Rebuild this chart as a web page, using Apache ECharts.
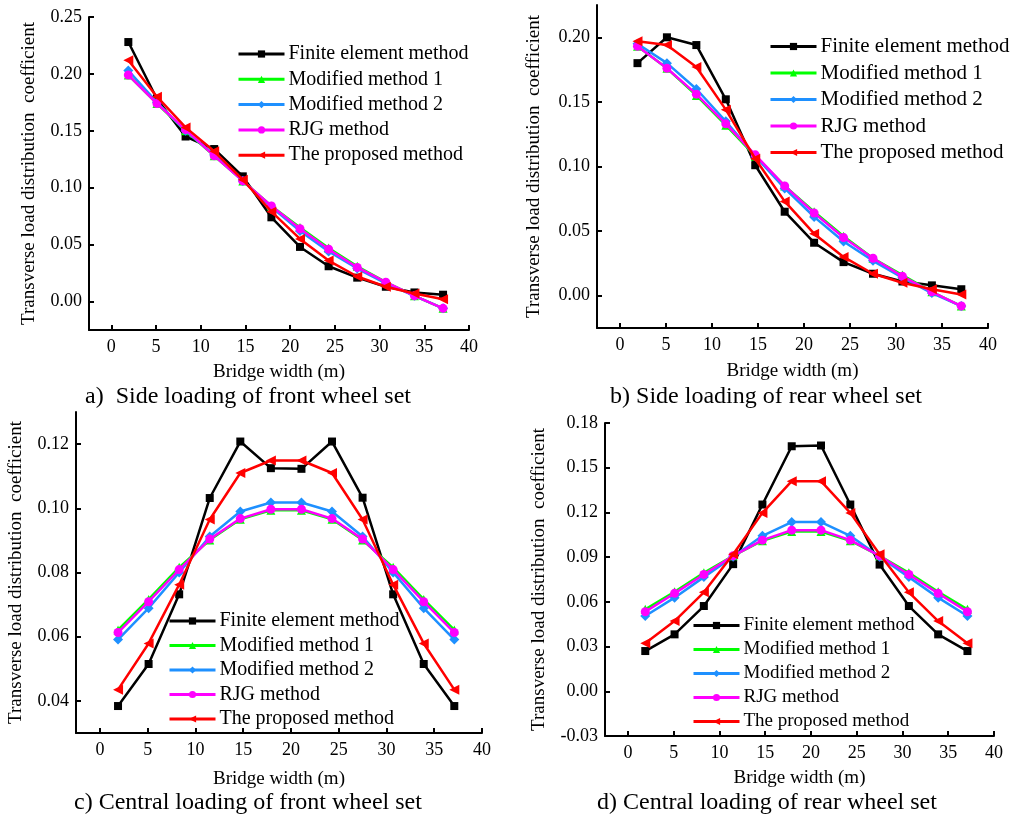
<!DOCTYPE html>
<html>
<head>
<meta charset="utf-8">
<script src="https://cdn.jsdelivr.net/npm/echarts@6/dist/echarts.min.js"></script>
<style>
  html, body { margin: 0; padding: 0; background: #ffffff; }
  #chart { width: 1017px; height: 818px; }
</style>
</head>
<body>
<div id="chart"></div>
<script>
// Girder positions across the bridge width (m)
const girderX = [1.9, 5.1, 8.3, 11.5, 14.7, 17.9, 21.1, 24.3, 27.5, 30.7, 33.9, 37.1];

const seriesNames = ['Finite element method', 'Modified method 1', 'Modified method 2', 'RJG method', 'The proposed method'];

// a) Side loading of front wheel set
const femA  = [0.228, 0.178, 0.145, 0.134, 0.110, 0.074, 0.048, 0.031, 0.021, 0.013, 0.008, 0.006];
const mod1A = [0.199, 0.174, 0.150, 0.128, 0.106, 0.084, 0.065, 0.047, 0.031, 0.017, 0.005, -0.006];
const mod2A = [0.203, 0.175, 0.150, 0.129, 0.106, 0.083, 0.062, 0.044, 0.029, 0.016, 0.005, -0.006];
const rjgA  = [0.199, 0.174, 0.151, 0.128, 0.106, 0.084, 0.064, 0.046, 0.030, 0.017, 0.005, -0.006];
const propA = [0.212, 0.180, 0.153, 0.132, 0.107, 0.079, 0.055, 0.036, 0.022, 0.013, 0.007, 0.002];

// b) Side loading of rear wheel set
const femB  = [0.180, 0.200, 0.194, 0.152, 0.101, 0.065, 0.041, 0.026, 0.017, 0.011, 0.008, 0.005];
const mod1B = [0.193, 0.176, 0.155, 0.132, 0.108, 0.085, 0.065, 0.046, 0.029, 0.016, 0.003, -0.008];
const mod2B = [0.195, 0.180, 0.160, 0.135, 0.108, 0.083, 0.061, 0.042, 0.027, 0.014, 0.002, -0.008];
const rjgB  = [0.193, 0.176, 0.156, 0.133, 0.109, 0.085, 0.064, 0.045, 0.029, 0.015, 0.003, -0.008];
const propB = [0.197, 0.194, 0.177, 0.144, 0.106, 0.073, 0.048, 0.030, 0.017, 0.010, 0.005, 0.001];

// c) Central loading of front wheel set
const femC  = [0.0384, 0.0515, 0.0732, 0.1032, 0.1208, 0.1125, 0.1123, 0.1208, 0.1033, 0.0732, 0.0515, 0.0384];
const mod1C = [0.0621, 0.0716, 0.0816, 0.0901, 0.0966, 0.0994, 0.0994, 0.0966, 0.0901, 0.0816, 0.0716, 0.0621];
const mod2C = [0.0591, 0.0689, 0.0800, 0.0912, 0.0990, 0.1018, 0.1018, 0.0990, 0.0912, 0.0800, 0.0689, 0.0591];
const rjgC  = [0.0613, 0.0709, 0.0809, 0.0904, 0.0968, 0.0997, 0.0997, 0.0968, 0.0904, 0.0809, 0.0709, 0.0613];
const propC = [0.0435, 0.0579, 0.0762, 0.0965, 0.1110, 0.1149, 0.1149, 0.1110, 0.0965, 0.0762, 0.0579, 0.0435];

// d) Central loading of rear wheel set
const femD  = [0.0270, 0.0382, 0.0572, 0.0853, 0.1253, 0.1644, 0.1649, 0.1253, 0.0850, 0.0572, 0.0382, 0.0270];
const mod1D = [0.0550, 0.0668, 0.0795, 0.0909, 0.1010, 0.1072, 0.1072, 0.1010, 0.0909, 0.0795, 0.0668, 0.0550];
const mod2D = [0.0505, 0.0628, 0.0766, 0.0903, 0.1043, 0.1135, 0.1135, 0.1043, 0.0903, 0.0766, 0.0628, 0.0505];
const rjgD  = [0.0534, 0.0657, 0.0784, 0.0909, 0.1014, 0.1081, 0.1081, 0.1014, 0.0909, 0.0784, 0.0657, 0.0534];
const propD = [0.0322, 0.0471, 0.0664, 0.0920, 0.1197, 0.1410, 0.1410, 0.1197, 0.0920, 0.0664, 0.0471, 0.0322];

// Tick values
const xTicks  = [0, 5, 10, 15, 20, 25, 30, 35, 40];
const yTicksA = [0, 0.05, 0.10, 0.15, 0.20, 0.25];
const yTicksB = [0, 0.05, 0.10, 0.15, 0.20];
const yTicksC = [0.04, 0.06, 0.08, 0.10, 0.12];
const yTicksD = [-0.03, 0, 0.03, 0.06, 0.09, 0.12, 0.15, 0.18];

const captions = [
  'a)  Side loading of front wheel set',
  'b) Side loading of rear wheel set',
  'c) Central loading of front wheel set',
  'd) Central loading of rear wheel set'
];

const FONT = '"Liberation Serif", "Times New Roman", serif';

const styles = [
  { color: '#000000', symbol: 'rect',     symbolSize: 8,  rotate: 0 },
  { color: '#00ff00', symbol: 'triangle', symbolSize: 9,  rotate: 0 },
  { color: '#1e90ff', symbol: 'diamond',  symbolSize: 10, rotate: 0 },
  { color: '#ff00ff', symbol: 'circle',   symbolSize: 9,  rotate: 0 },
  { color: '#ff0000', symbol: 'triangle', symbolSize: 10, rotate: 90 }
];

const panels = [
  { data: [femA, mod1A, mod2A, rjgA, propA], yMin: -0.025, yMax: 0.25, yTicks: yTicksA,
    grid: { left: 89, top: 17, width: 380, height: 313 },
    legend: { left: 237, top: 44, gap: 5.3, size: 20 }, yGap: 50, xGap: 33,
    caption: { x: 248, y: 397 } },
  { data: [femB, mod1B, mod2B, rjgB, propB], yMin: -0.025, yMax: 0.225, yTicks: yTicksB,
    grid: { left: 597, top: 5, width: 391, height: 323 },
    legend: { left: 769, top: 36, gap: 5.5, size: 21 }, yGap: 53, xGap: 34,
    caption: { x: 766, y: 397 } },
  { data: [femC, mod1C, mod2C, rjgC, propC], yMin: 0.03, yMax: 0.13, yTicks: yTicksC,
    grid: { left: 76, top: 412, width: 406, height: 321 },
    legend: { left: 168, top: 611, gap: 4.5, size: 20 }, yGap: 50, xGap: 37,
    caption: { x: 248, y: 803 } },
  { data: [femD, mod1D, mod2D, rjgD, propD], yMin: -0.03, yMax: 0.18, yTicks: yTicksD,
    grid: { left: 605, top: 423, width: 389, height: 313 },
    legend: { left: 692, top: 616, gap: 5, size: 19 }, yGap: 56, xGap: 33,
    caption: { x: 767, y: 803 } }
];

const axisLineStyle = { show: true, onZero: false, lineStyle: { color: '#000', width: 2 } };

const option = {
  backgroundColor: '#ffffff',
  animation: false,
  textStyle: { fontFamily: FONT },
  grid: [], xAxis: [], yAxis: [], series: [], legend: [], graphic: []
};

panels.forEach((p, i) => {
  option.grid.push(Object.assign({ containLabel: false }, p.grid));
  option.xAxis.push({
    type: 'value', gridIndex: i, min: -2.5, max: 40,
    name: 'Bridge width (m)', nameLocation: 'middle', nameGap: p.xGap,
    nameTextStyle: { fontFamily: FONT, fontSize: 19, color: '#000' },
    axisLine: axisLineStyle,
    axisTick: { show: true, inside: true, length: 5, lineStyle: { color: '#000', width: 2 }, customValues: xTicks },
    axisLabel: { show: true, fontFamily: FONT, fontSize: 18, color: '#000', margin: 8, customValues: xTicks },
    splitLine: { show: false }
  });
  option.yAxis.push({
    type: 'value', gridIndex: i, min: p.yMin, max: p.yMax,
    name: 'Transverse load distribution  coefficient', nameLocation: 'middle', nameGap: p.yGap,
    nameTextStyle: { fontFamily: FONT, fontSize: 19, color: '#000' },
    axisLine: axisLineStyle,
    axisTick: { show: true, inside: true, length: 5, lineStyle: { color: '#000', width: 2 }, customValues: p.yTicks },
    axisLabel: { show: true, fontFamily: FONT, fontSize: 18, color: '#000', margin: 7,
                 customValues: p.yTicks, formatter: v => v.toFixed(2) },
    splitLine: { show: false }
  });
  p.data.forEach((vals, k) => {
    const s = styles[k];
    option.series.push({
      type: 'line', name: seriesNames[k], xAxisIndex: i, yAxisIndex: i,
      data: girderX.map((x, j) => [x, vals[j]]),
      symbol: s.symbol, symbolSize: s.symbolSize, symbolRotate: s.rotate,
      showAllSymbol: true,
      lineStyle: { color: s.color, width: 2.5 },
      itemStyle: { color: s.color },
      z: 2 + k
    });
  });
  option.legend.push({
    data: seriesNames, orient: 'vertical', left: p.legend.left, top: p.legend.top,
    itemWidth: 46, itemHeight: 9, itemGap: p.legend.gap, padding: 0,
    lineStyle: { width: 3 },
    textStyle: { fontFamily: FONT, fontSize: p.legend.size, color: '#000', padding: [0, 0, 0, -1] },
    selectedMode: false,
    z: 10
  });
  option.graphic.push({
    type: 'text', x: p.caption.x, y: p.caption.y,
    style: { text: captions[i], fill: '#000', font: '24px ' + FONT, align: 'center', verticalAlign: 'middle' }
  });
});

const chart = echarts.init(document.getElementById('chart'), null, { renderer: 'canvas' });
chart.setOption(option);
</script>
</body>
</html>
